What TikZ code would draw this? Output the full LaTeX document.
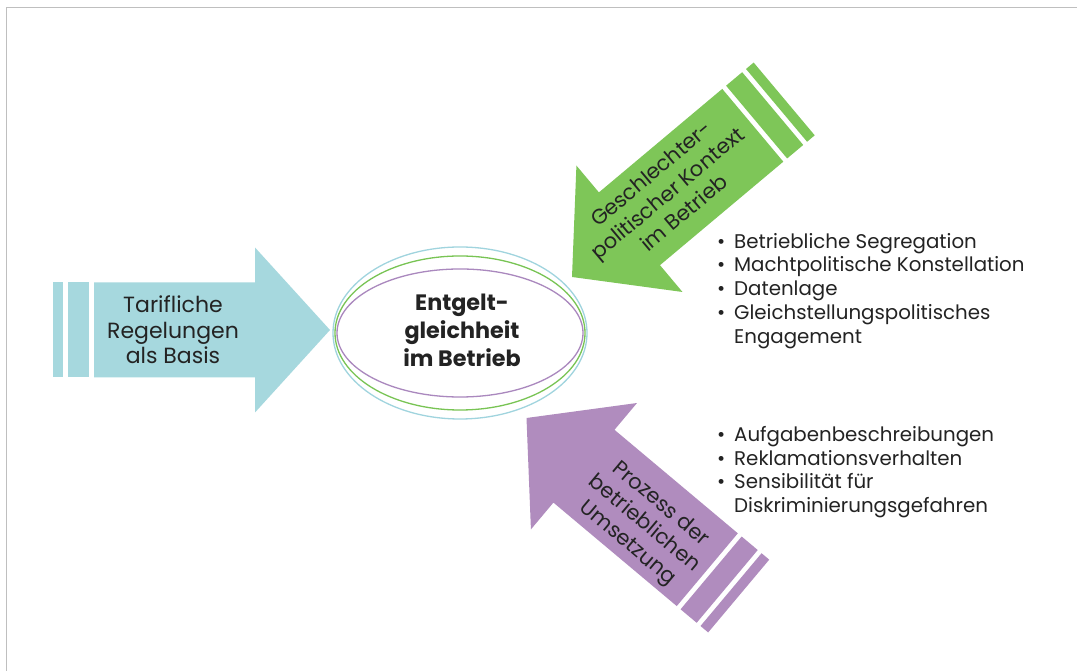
\documentclass[tikz,border=0pt]{standalone}
\usepackage{fontspec}
\setmainfont{Poppins}
\definecolor{arrblue}{RGB}{166,216,222}
\definecolor{arrgreen}{RGB}{126,198,88}
\definecolor{arrpurple}{RGB}{176,140,190}
\definecolor{ellblue}{RGB}{160,212,222}
\definecolor{ellgreen}{RGB}{120,196,84}
\definecolor{ellpurple}{RGB}{170,136,190}
\definecolor{txt}{RGB}{35,35,35}
\newcommand\fatarrow[1]{%
  \fill[#1] (0,0) -- (-75,82.5) -- (-75,47.5) -- (-236,47.5) -- (-236,-47.5) -- (-75,-47.5) -- (-75,-82.5) -- cycle;
  \fill[#1] (-262,-47.5) rectangle (-241,47.5);
  \fill[#1] (-277,-47.5) rectangle (-267,47.5);}
\tikzset{
  arrlabel/.style={align=center, text=txt, font=\fontsize{21}{25.5}\selectfont, inner sep=0pt},
  centerlabel/.style={align=center, text=txt, font=\fontsize{22.3}{28}\selectfont\bfseries, inner sep=0pt},
  listlabel/.style={align=left, text=txt, font=\fontsize{19.8}{23.7}\selectfont, inner sep=0pt, anchor=north west},
  ring/.style={line width=1.3pt}
}
\newcommand\bul{\makebox[17pt][l]{•}}
\begin{document}
\begin{tikzpicture}[x=1pt,y=1pt]
\useasboundingbox (0,0) rectangle (1077,671);
\fill[white] (0,0) rectangle (1077,671);
\draw[black!25, line width=1.2pt] (6.5,0) -- (6.5,663.5) -- (1077,663.5);
% left arrow
\begin{scope}[shift={(330,341)}]
  \fatarrow{arrblue}
  \node[arrlabel, font=\fontsize{22}{25.5}\selectfont] (tarif) at (-157,0) {Tarifliche\\Regelungen\\als Basis};
\end{scope}
% green arrow
\begin{scope}[shift={(572,394)}, rotate=220]
  \fatarrow{arrgreen}
  \node[arrlabel, rotate=40] (kontext) at (-127,-3) {Geschlechter-\\politischer Kontext\\im Betrieb};
\end{scope}
% purple arrow
\begin{scope}[shift={(526.5,253)}, rotate=140]
  \fatarrow{arrpurple}
  \node[arrlabel, rotate=-40] (prozess) at (-158,6) {Prozess der\\betrieblichen\\Umsetzung};
\end{scope}
% ellipses
\draw[ring, ellblue] (460,338) ellipse [x radius=127, y radius=86];
\draw[ring, ellgreen] (460,338) ellipse [x radius=125, y radius=77];
\draw[ring, ellpurple] (460,338) ellipse [x radius=123, y radius=64];
\node[centerlabel] (center) at (462,341) {Entgelt-\\gleichheit\\im Betrieb};
% lists
\node[listlabel] (list1) at (717,438) {\bul Betriebliche Segregation\\\bul Machtpolitische Konstellation\\\bul Datenlage\\\bul Gleichstellungspolitisches\\\hspace*{17pt}Engagement};
\node[listlabel] (list2) at (717,245) {\bul Aufgabenbeschreibungen\\\bul Reklamationsverhalten\\\bul Sensibilität für\\\hspace*{17pt}Diskriminierungsgefahren};
\end{tikzpicture}
\end{document}
